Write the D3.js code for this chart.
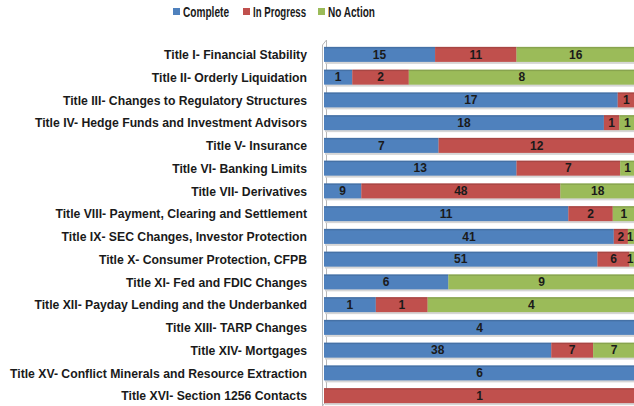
<!DOCTYPE html>
<html>
<head>
<meta charset="utf-8">
<script src="https://cdn.jsdelivr.net/npm/d3@7"></script>
<style>
  body { margin: 0; background: #fff; }
  svg { display: block; font-family: "Liberation Sans", Arial, sans-serif; }
</style>
</head>
<body>
<div id="chart"></div>
<script>
// Dodd-Frank rulemaking status by title
var titles = [
  "Title I- Financial Stability",
  "Title II- Orderly Liquidation",
  "Title III- Changes to Regulatory Structures",
  "Title IV- Hedge Funds and Investment Advisors",
  "Title V- Insurance",
  "Title VI- Banking Limits",
  "Title VII- Derivatives",
  "Title VIII- Payment, Clearing and Settlement",
  "Title IX- SEC Changes, Investor Protection",
  "Title X- Consumer Protection, CFPB",
  "Title XI- Fed and FDIC Changes",
  "Title XII- Payday Lending and the Underbanked",
  "Title XIII- TARP Changes",
  "Title XIV- Mortgages",
  "Title XV- Conflict Minerals and Resource Extraction",
  "Title XVI- Section 1256 Contacts"
];
var complete   = [15, 1, 17, 18, 7, 13, 9, 11, 41, 51, 6, 1, 4, 38, 6, 0];
var inProgress = [11, 2, 1, 1, 12, 7, 48, 2, 2, 6, 0, 1, 0, 7, 0, 1];
var noAction   = [16, 8, 0, 1, 0, 1, 18, 1, 1, 1, 9, 4, 0, 7, 0, 0];

var seriesNames = ["Complete", "In Progress", "No Action"];
var colors = ["#4f81bd", "#c0504d", "#9bbb59"];

var width = 634, height = 406;

var svg = d3.select("#chart").append("svg")
    .attr("width", width)
    .attr("height", height);

// rows with percentages (100% stacked)
var rows = titles.map(function(t, i) {
  return { title: t, Complete: complete[i], "In Progress": inProgress[i], "No Action": noAction[i] };
});
var stack = d3.stack().keys(seriesNames).offset(d3.stackOffsetExpand);
var layers = stack(rows);

var x = d3.scaleLinear().domain([0, 1]).range([324, 635]);
var y = d3.scaleBand().domain(titles).range([43, 407]).paddingInner(0.34).paddingOuter(0.17);

// left wall of the 3D plot area
var wall = svg.append("g").attr("stroke", "#b8b8b8").attr("fill", "none").attr("stroke-width", 1);
wall.append("path").attr("d", "M322.5,45 L326.5,40 L326.5,401 L322.5,406 Z");

// bar shadows
svg.append("g").selectAll("rect")
  .data(rows)
  .enter().append("rect")
    .attr("x", x(0) + 1)
    .attr("y", function(d) { return y(d.title) + 2; })
    .attr("width", x(1) - x(0))
    .attr("height", y.bandwidth())
    .attr("fill", "#d6d6d6");

var layer = svg.append("g").selectAll("g")
  .data(layers)
  .enter().append("g")
    .attr("fill", function(d, i) { return colors[i]; });

layer.selectAll("rect")
  .data(function(d) { return d; })
  .enter().append("rect")
    .attr("x", function(d) { return x(d[0]); })
    .attr("y", function(d) { return y(d.data.title); })
    .attr("width", function(d) { return x(d[1]) - x(d[0]); })
    .attr("height", y.bandwidth());

// darker top edge on the bars (3D face)
svg.append("g").selectAll("rect")
  .data(rows)
  .enter().append("rect")
    .attr("x", x(0))
    .attr("y", function(d) { return y(d.title); })
    .attr("width", x(1) - x(0))
    .attr("height", 1.5)
    .attr("fill", "#000")
    .attr("opacity", 0.12);

// value labels
layer.selectAll("text")
  .data(function(d) { return d.map(function(s) { return { s: s, key: d.key }; }); })
  .enter().filter(function(d) { return d.s.data[d.key] > 0; }).append("text")
    .attr("x", function(d) { return Math.min((x(d.s[0]) + x(d.s[1])) / 2, 630); })
    .attr("y", function(d) { return y(d.s.data.title) + y.bandwidth() / 2; })
    .attr("dy", "0.36em")
    .attr("text-anchor", "middle")
    .attr("fill", "#1a1a1a")
    .attr("font-size", 12)
    .attr("font-weight", "bold")
    .text(function(d) { return d.s.data[d.key]; });

// category labels
var labels = svg.append("g").selectAll("text")
  .data(titles)
  .enter().append("text")
    .attr("x", 307)
    .attr("y", function(d) { return y(d) + y.bandwidth() / 2; })
    .attr("dy", "0.36em")
    .attr("text-anchor", "end")
    .attr("fill", "#1a1a1a")
    .attr("font-size", 13)
    .attr("font-weight", "bold")
    .text(function(d) { return d; });

// fit to the reference's face: longest label runs 297px
var longest = d3.max(labels.nodes(), function(n) { return n.getComputedTextLength(); });
var k = 297 / longest;
labels.each(function() {
  d3.select(this).attr("textLength", this.getComputedTextLength() * k).attr("lengthAdjust", "spacingAndGlyphs");
});

// legend
var legendX = [173, 243, 318];
var legendW = [46, 53, 47];
var legend = svg.append("g").selectAll("g")
  .data(seriesNames)
  .enter().append("g")
    .attr("transform", function(d, i) { return "translate(" + legendX[i] + ",12)"; });
legend.append("rect")
  .attr("x", 0).attr("y", -4)
  .attr("width", 7).attr("height", 7)
  .attr("fill", function(d, i) { return colors[i]; });
legend.append("text")
  .attr("x", 10)
  .attr("dy", "0.36em")
  .attr("fill", "#1a1a1a")
  .attr("font-size", 14)
  .attr("font-weight", "bold")
  .attr("textLength", function(d, i) { return legendW[i]; })
  .attr("lengthAdjust", "spacingAndGlyphs")
  .text(function(d) { return d; });
</script>
</body>
</html>
